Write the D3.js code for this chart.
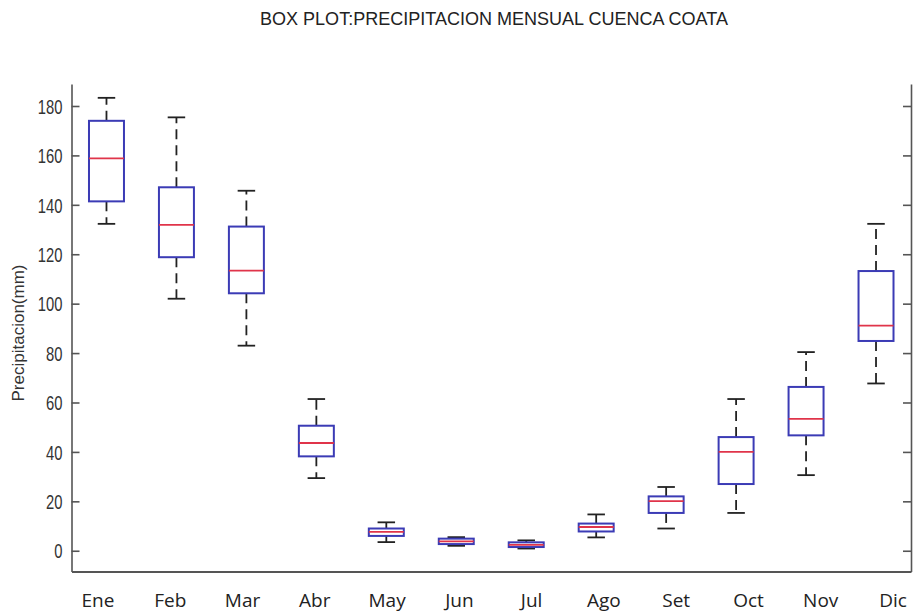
<!DOCTYPE html>
<html>
<head>
<meta charset="utf-8">
<script src="https://cdn.jsdelivr.net/npm/d3@7"></script>
<style>
  body { margin: 0; background: #fff; }
  svg { display: block; }
</style>
</head>
<body>
<svg id="chart" width="913" height="613"></svg>
<script>
// Monthly precipitation (mm), Coata basin: five-number summary per month
const months      = ["Ene", "Feb", "Mar", "Abr", "May", "Jun", "Jul", "Ago", "Set", "Oct", "Nov", "Dic"];
const whiskerLow  = [132.3, 102.0,  83.0, 29.4,  3.5, 2.0, 0.9,  5.4,  9.0, 15.3, 30.6,  67.7];
const q1          = [141.4, 118.8, 104.2, 38.2,  6.0, 2.7, 1.5,  7.8, 15.3, 27.0, 46.7,  84.9];
const median      = [158.8, 131.9, 113.4, 43.6,  7.6, 3.8, 2.4,  9.6, 20.1, 40.0, 53.4,  91.1];
const q3          = [174.0, 147.1, 131.2, 50.6,  9.0, 4.9, 3.4, 11.0, 22.0, 46.0, 66.3, 113.2];
const whiskerHigh = [183.3, 175.4, 145.7, 61.4, 11.5, 5.5, 4.2, 14.7, 25.8, 61.4, 80.4, 132.3];
const yTicks      = [0, 20, 40, 60, 80, 100, 120, 140, 160, 180];

const rows = months.map((m, i) => ({
  month: m, pos: i + 1,
  lo: whiskerLow[i], q1: q1[i], med: median[i], q3: q3[i], hi: whiskerHigh[i]
}));

const svg = d3.select("#chart");
const plotLeft = 71.5, plotRight = 911, plotTop = 84, plotBottom = 571.5;

const x = d3.scaleLinear().domain([0.5, 12.5]).range([plotLeft, plotRight]);
const y = d3.scaleLinear().domain([-8.4, 188.9]).range([plotBottom, plotTop]);
// month names sit on their own, slightly wider row below the axis
const xLabel = d3.scalePoint().domain(months).range([98, 893]);

const boxW = x(1.5) - x(1);       // box width: 0.5 position units
const capW = boxW / 2;            // whisker caps are half the box width

const axisColor = "#555";
const narrow = "'Liberation Sans', Arial, sans-serif";

// Title
svg.append("text")
  .attr("x", 494).attr("y", 25)
  .attr("text-anchor", "middle")
  .attr("font-family", narrow)
  .attr("font-size", 18)
  .attr("textLength", 468)
  .attr("lengthAdjust", "spacingAndGlyphs")
  .attr("fill", "#222")
  .text("BOX PLOT:PRECIPITACION MENSUAL CUENCA COATA");

// Left axis with inward ticks
const gLeft = svg.append("g")
  .attr("transform", `translate(${plotLeft},0)`)
  .call(d3.axisLeft(y).tickValues(yTicks).tickSizeInner(-8).tickSizeOuter(0).tickPadding(9));
gLeft.select(".domain").attr("stroke", axisColor).attr("stroke-width", 1.6);
gLeft.selectAll(".tick line").attr("stroke", axisColor).attr("stroke-width", 1.6);
gLeft.selectAll(".tick text")
  .attr("x", null)
  .attr("dy", "0.36em")
  .attr("transform", "translate(-9,0) scale(0.74,1)")
  .attr("font-family", narrow)
  .attr("font-size", 20)
  .attr("fill", "#333");

// Right axis, ticks only pointing inward
const gRight = svg.append("g")
  .attr("transform", `translate(${plotRight},0)`)
  .call(d3.axisRight(y).tickValues(yTicks).tickSizeInner(-8).tickSizeOuter(0).tickFormat(""));
gRight.select(".domain").attr("stroke", axisColor).attr("stroke-width", 1.6);
gRight.selectAll(".tick line").attr("stroke", axisColor).attr("stroke-width", 1.6);

// Bottom axis line
const gBottom = svg.append("g")
  .attr("transform", `translate(0,${plotBottom})`)
  .call(d3.axisBottom(x).tickValues([]).tickSizeOuter(0));
gBottom.select(".domain").attr("stroke", axisColor).attr("stroke-width", 1.8);

// Month labels
svg.append("g").selectAll("text")
  .data(months)
  .join("text")
  .attr("x", d => xLabel(d))
  .attr("y", 607)
  .attr("text-anchor", "middle")
  .attr("font-family", "'Open Sans', 'DejaVu Sans', sans-serif")
  .attr("font-size", 19)
  .attr("fill", "#222")
  .text(d => d);

// Y axis title
svg.append("text")
  .attr("transform", `translate(24,333) rotate(-90)`)
  .attr("text-anchor", "middle")
  .attr("font-family", "Arial, 'Liberation Sans', sans-serif")
  .attr("font-size", 17)
  .attr("fill", "#333")
  .text("Precipitacion(mm)");

// Boxes
const g = svg.append("g");
const box = g.selectAll("g.box").data(rows).join("g").attr("class", "box");

// whiskers (dashed)
box.append("line")
  .attr("x1", d => x(d.pos)).attr("x2", d => x(d.pos))
  .attr("y1", d => y(d.q3)).attr("y2", d => y(d.hi))
  .attr("stroke", "#222").attr("stroke-width", 1.8).attr("stroke-dasharray", "10,6");
box.append("line")
  .attr("x1", d => x(d.pos)).attr("x2", d => x(d.pos))
  .attr("y1", d => y(d.q1)).attr("y2", d => y(d.lo))
  .attr("stroke", "#222").attr("stroke-width", 1.8).attr("stroke-dasharray", "10,6");

// caps
box.append("line")
  .attr("x1", d => x(d.pos) - capW / 2).attr("x2", d => x(d.pos) + capW / 2)
  .attr("y1", d => y(d.hi)).attr("y2", d => y(d.hi))
  .attr("stroke", "#222").attr("stroke-width", 1.8);
box.append("line")
  .attr("x1", d => x(d.pos) - capW / 2).attr("x2", d => x(d.pos) + capW / 2)
  .attr("y1", d => y(d.lo)).attr("y2", d => y(d.lo))
  .attr("stroke", "#222").attr("stroke-width", 1.8);

// interquartile box
box.append("rect")
  .attr("x", d => x(d.pos) - boxW / 2)
  .attr("width", boxW)
  .attr("y", d => y(d.q3))
  .attr("height", d => y(d.q1) - y(d.q3))
  .attr("fill", "none")
  .attr("stroke", "#3b3bb5").attr("stroke-width", 2);

// median
box.append("line")
  .attr("x1", d => x(d.pos) - boxW / 2).attr("x2", d => x(d.pos) + boxW / 2)
  .attr("y1", d => y(d.med)).attr("y2", d => y(d.med))
  .attr("stroke", "#e0344a").attr("stroke-width", 1.8);
</script>
</body>
</html>
